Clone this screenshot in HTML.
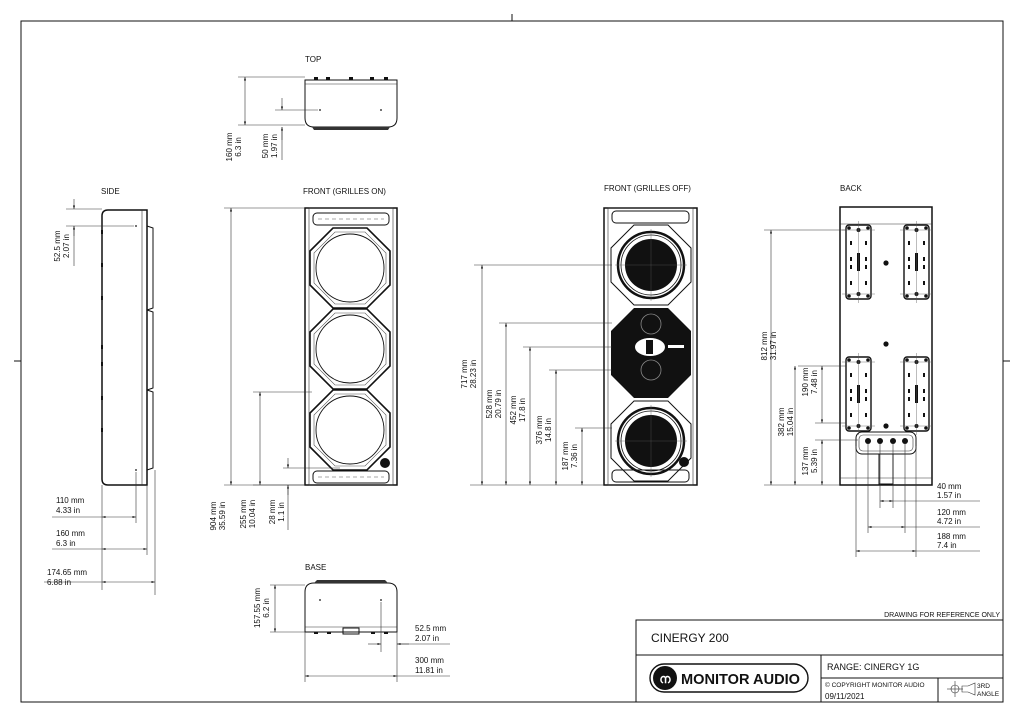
<!DOCTYPE html>
<html><head><meta charset="utf-8"><style>
html,body{margin:0;padding:0;background:#fff}
svg{display:block}
text{font-family:"Liberation Sans",sans-serif;font-size:8px;fill:#111}
.l{stroke:#111;stroke-width:1;fill:none}
.t{stroke:#333;stroke-width:0.6;fill:none}
.b{stroke:#111;stroke-width:1.5;fill:none}
</style></head><body>
<svg width="1024" height="722" viewBox="0 0 1024 722" xmlns="http://www.w3.org/2000/svg">
<defs>
<marker id="a" viewBox="0 0 10 10" refX="10" refY="5" markerWidth="6" markerHeight="6" orient="auto-start-reverse"><path d="M0,2 L10,5 L0,8z" fill="#111"/></marker>
<g id="oct">
<polygon points="-17,-40 17,-40 40,-17 40,17 17,40 -17,40 -40,17 -40,-17" fill="none" stroke="#111" stroke-width="1.6"/>
<polygon points="-15,-36 15,-36 36,-15 36,15 15,36 -15,36 -36,15 -36,-15" fill="none" stroke="#555" stroke-width="0.6"/>
<circle r="34" fill="#fff" stroke="#111" stroke-width="0.9"/>
</g>
<g id="woof">
<polygon points="-17,-40 17,-40 40,-17 40,17 17,40 -17,40 -40,17 -40,-17" fill="none" stroke="#111" stroke-width="1"/>
<circle r="33" fill="none" stroke="#111" stroke-width="2.5"/>
<circle r="30" fill="none" stroke="#111" stroke-width="0.8"/>
<circle r="26" fill="#111"/>
<line x1="-36" y1="0" x2="36" y2="0" stroke="#555" stroke-width="0.4"/>
<line x1="0" y1="-36" x2="0" y2="36" stroke="#555" stroke-width="0.4"/>
</g>
<g id="plate">
<rect x="0" y="0" width="25" height="74" rx="3" fill="none" stroke="#111" stroke-width="1.4"/>
<circle cx="3" cy="3" r="1.8" fill="#111"/><circle cx="22" cy="3" r="1.8" fill="#111"/>
<circle cx="3" cy="71" r="1.8" fill="#111"/><circle cx="22" cy="71" r="1.8" fill="#111"/>
<circle cx="12.5" cy="5" r="2" fill="#111"/><circle cx="12.5" cy="69" r="2" fill="#111"/>
<rect x="11" y="28" width="3" height="18" fill="#111"/>
<rect x="4" y="16" width="2" height="4" fill="#111"/><rect x="19" y="16" width="2" height="4" fill="#111"/>
<rect x="4" y="32" width="2" height="4" fill="#111"/><rect x="19" y="32" width="2" height="4" fill="#111"/>
<rect x="4" y="40" width="2" height="4" fill="#111"/><rect x="19" y="40" width="2" height="4" fill="#111"/>
<rect x="4" y="56" width="2" height="4" fill="#111"/><rect x="19" y="56" width="2" height="4" fill="#111"/>
<line x1="-4" y1="5" x2="29" y2="5" stroke="#555" stroke-width="0.4"/>
<line x1="-4" y1="69" x2="29" y2="69" stroke="#555" stroke-width="0.4"/>
<line x1="12.5" y1="-4" x2="12.5" y2="78" stroke="#555" stroke-width="0.4"/>
</g>
</defs>

<!-- frame -->
<rect x="21" y="21" width="982" height="681" class="l"/>
<line x1="512" y1="14" x2="512" y2="21" class="l"/>
<line x1="14" y1="361" x2="21" y2="361" class="l"/>
<line x1="1003" y1="361" x2="1010" y2="361" class="l"/>

<!-- TOP view -->
<text x="305" y="62">TOP</text>
<path d="M305,80 L397,80 L397,118 Q397,127 388,127 L314,127 Q305,127 305,118 Z" class="l"/>
<line x1="305" y1="84" x2="397" y2="84" class="t"/>
<path d="M312,127 L390,127 L388,130 L314,130 Z" fill="#333"/>
<g fill="#111"><rect x="314" y="77" width="4" height="3"/><rect x="326" y="77" width="4" height="3"/><rect x="349" y="77" width="4" height="3"/><rect x="370" y="77" width="4" height="3"/><rect x="384" y="77" width="4" height="3"/></g>
<circle cx="320" cy="110" r="0.9" fill="#111"/><circle cx="381" cy="110" r="0.9" fill="#111"/>
<line x1="238" y1="77" x2="305" y2="77" class="t"/>
<line x1="238" y1="125" x2="305" y2="125" class="t"/>
<line x1="245" y1="77" x2="245" y2="125" class="t" marker-start="url(#a)" marker-end="url(#a)"/>
<line x1="275" y1="110" x2="318" y2="110" class="t"/>
<line x1="282" y1="98" x2="282" y2="110" class="t" marker-end="url(#a)"/>
<line x1="282" y1="140" x2="282" y2="127" class="t" marker-end="url(#a)"/>
<line x1="282" y1="127" x2="282" y2="160" class="t"/>
<text transform="translate(232,147) rotate(-90)" text-anchor="middle">160 mm</text>
<text transform="translate(241,147) rotate(-90)" text-anchor="middle">6.3 in</text>
<text transform="translate(268,146) rotate(-90)" text-anchor="middle">50 mm</text>
<text transform="translate(277,146) rotate(-90)" text-anchor="middle">1.97 in</text>

<!-- SIDE view -->
<text x="101" y="194">SIDE</text>
<path d="M108,210 L147,210 L147,485 L108,485 Q102,485 102,479 L102,216 Q102,210 108,210 Z" class="b" stroke-width="1.3"/>
<line x1="142" y1="210" x2="142" y2="485" class="t"/>
<path d="M147,226 L153,228 L153,308 L147,310 M147,310 L153,312 L153,388 L147,390 M147,390 L153,392 L153,468 L147,470" class="l" stroke-width="1.6"/>
<g fill="#111"><rect x="101" y="230" width="2" height="4"/><rect x="101" y="263" width="2" height="4"/><rect x="101" y="296" width="2" height="4"/><rect x="101" y="345" width="2" height="4"/><rect x="101" y="362" width="2" height="4"/><rect x="101" y="396" width="2" height="4"/><rect x="101" y="428" width="2" height="4"/></g>
<circle cx="136" cy="226" r="0.9" fill="#111"/><circle cx="136" cy="470" r="0.9" fill="#111"/>
<line x1="66" y1="209" x2="102" y2="209" class="t"/>
<line x1="66" y1="226" x2="134" y2="226" class="t"/>
<line x1="74" y1="199" x2="74" y2="209" class="t" marker-end="url(#a)"/>
<line x1="74" y1="236" x2="74" y2="226" class="t" marker-end="url(#a)"/>
<line x1="74" y1="226" x2="74" y2="266" class="t"/>
<text transform="translate(60,246) rotate(-90)" text-anchor="middle">52.5 mm</text>
<text transform="translate(69,246) rotate(-90)" text-anchor="middle">2.07 in</text>
<line x1="102" y1="485" x2="102" y2="590" class="t"/>
<line x1="136" y1="472" x2="136" y2="523" class="t"/>
<line x1="147" y1="485" x2="147" y2="555" class="t"/>
<line x1="155" y1="470" x2="155" y2="595" class="t"/>
<line x1="52" y1="517" x2="102" y2="517" class="t"/>
<line x1="102" y1="517" x2="136" y2="517" class="t" marker-start="url(#a)" marker-end="url(#a)"/>
<line x1="52" y1="549" x2="102" y2="549" class="t"/>
<line x1="102" y1="549" x2="147" y2="549" class="t" marker-start="url(#a)" marker-end="url(#a)"/>
<line x1="44" y1="582" x2="102" y2="582" class="t"/>
<line x1="102" y1="582" x2="155" y2="582" class="t" marker-start="url(#a)" marker-end="url(#a)"/>
<text x="56" y="503">110 mm</text><text x="56" y="513">4.33 in</text>
<text x="56" y="536">160 mm</text><text x="56" y="546">6.3 in</text>
<text x="47" y="575">174.65 mm</text><text x="47" y="585">6.88 in</text>

<!-- FRONT GRILLES ON -->
<text x="303" y="194">FRONT (GRILLES ON)</text>
<rect x="305" y="208" width="92" height="277" class="b" stroke-width="1.3"/>
<rect x="309" y="208" width="84" height="277" class="t"/>
<rect x="313" y="213" width="76" height="12" rx="4" class="l"/>
<line x1="318" y1="219" x2="384" y2="219" stroke="#555" stroke-width="0.6" stroke-dasharray="4,3"/>
<rect x="313" y="471" width="76" height="12" rx="4" class="l"/>
<line x1="318" y1="477" x2="384" y2="477" stroke="#555" stroke-width="0.6" stroke-dasharray="4,3"/>
<use href="#oct" x="350" y="268"/>
<use href="#oct" x="350" y="349"/>
<use href="#oct" x="350" y="430"/>
<circle cx="385" cy="463" r="5" fill="#111"/>
<line x1="224" y1="208" x2="305" y2="208" class="t"/>
<line x1="224" y1="485" x2="305" y2="485" class="t"/>
<line x1="231" y1="208" x2="231" y2="485" class="t" marker-start="url(#a)" marker-end="url(#a)"/>
<line x1="253" y1="392" x2="312" y2="392" class="t"/>
<line x1="260" y1="392" x2="260" y2="485" class="t" marker-start="url(#a)" marker-end="url(#a)"/>
<line x1="253" y1="485" x2="305" y2="485" class="t"/>
<line x1="283" y1="468" x2="340" y2="468" class="t"/>
<line x1="288" y1="458" x2="288" y2="468" class="t" marker-end="url(#a)"/>
<line x1="288" y1="495" x2="288" y2="485" class="t" marker-end="url(#a)"/>
<line x1="288" y1="485" x2="288" y2="530" class="t"/>
<text transform="translate(216,516) rotate(-90)" text-anchor="middle">904 mm</text>
<text transform="translate(225,516) rotate(-90)" text-anchor="middle">35.59 in</text>
<text transform="translate(246,514) rotate(-90)" text-anchor="middle">255 mm</text>
<text transform="translate(255,514) rotate(-90)" text-anchor="middle">10.04 in</text>
<text transform="translate(275,512) rotate(-90)" text-anchor="middle">28 mm</text>
<text transform="translate(284,512) rotate(-90)" text-anchor="middle">1.1 in</text>

<!-- FRONT GRILLES OFF -->
<text x="604" y="191">FRONT (GRILLES OFF)</text>
<rect x="604" y="208" width="93" height="277" class="b" stroke-width="1.3"/>
<rect x="608" y="208" width="85" height="277" class="t"/>
<rect x="612" y="211" width="77" height="12" rx="4" class="l"/>
<rect x="612" y="470" width="77" height="12" rx="4" class="l"/>
<use href="#woof" x="651" y="265"/>
<use href="#woof" x="651" y="441"/>
<polygon points="634,308 668,308 691,331 691,375 668,398 634,398 611,375 611,331" fill="#111"/>
<circle cx="651" cy="324" r="10" fill="none" stroke="#888" stroke-width="0.8"/>
<circle cx="651" cy="370" r="10" fill="none" stroke="#888" stroke-width="0.8"/>
<ellipse cx="650" cy="347" rx="15" ry="9" fill="#fff"/>
<rect x="646" y="340" width="7" height="14" fill="#111"/>
<rect x="668" y="345" width="16" height="3" fill="#fff"/>
<circle cx="684" cy="462" r="5" fill="#111"/>
<line x1="474" y1="265" x2="612" y2="265" class="t"/>
<line x1="499" y1="323" x2="612" y2="323" class="t"/>
<line x1="523" y1="347" x2="612" y2="347" class="t"/>
<line x1="549" y1="370" x2="612" y2="370" class="t"/>
<line x1="575" y1="428" x2="612" y2="428" class="t"/>
<line x1="470" y1="485" x2="604" y2="485" class="t"/>
<line x1="482" y1="265" x2="482" y2="485" class="t" marker-start="url(#a)" marker-end="url(#a)"/>
<line x1="506" y1="323" x2="506" y2="485" class="t" marker-start="url(#a)" marker-end="url(#a)"/>
<line x1="530" y1="347" x2="530" y2="485" class="t" marker-start="url(#a)" marker-end="url(#a)"/>
<line x1="556" y1="370" x2="556" y2="485" class="t" marker-start="url(#a)" marker-end="url(#a)"/>
<line x1="582" y1="428" x2="582" y2="485" class="t" marker-start="url(#a)" marker-end="url(#a)"/>
<text transform="translate(467,374) rotate(-90)" text-anchor="middle">717 mm</text>
<text transform="translate(476,374) rotate(-90)" text-anchor="middle">28.23 in</text>
<text transform="translate(492,404) rotate(-90)" text-anchor="middle">528 mm</text>
<text transform="translate(501,404) rotate(-90)" text-anchor="middle">20.79 in</text>
<text transform="translate(516,410) rotate(-90)" text-anchor="middle">452 mm</text>
<text transform="translate(525,410) rotate(-90)" text-anchor="middle">17.8 in</text>
<text transform="translate(542,430) rotate(-90)" text-anchor="middle">376 mm</text>
<text transform="translate(551,430) rotate(-90)" text-anchor="middle">14.8 in</text>
<text transform="translate(568,456) rotate(-90)" text-anchor="middle">187 mm</text>
<text transform="translate(577,456) rotate(-90)" text-anchor="middle">7.36 in</text>

<!-- BACK -->
<text x="840" y="191">BACK</text>
<rect x="840" y="207" width="92" height="278" class="b" stroke-width="1.3"/>
<line x1="840" y1="224" x2="932" y2="224" class="t"/>
<line x1="840" y1="478" x2="932" y2="478" class="t"/>
<use href="#plate" x="846" y="225"/>
<use href="#plate" x="904" y="225"/>
<use href="#plate" x="846" y="357"/>
<use href="#plate" x="904" y="357"/>
<circle cx="886" cy="263" r="2.6" fill="#111"/>
<circle cx="886" cy="344" r="2.6" fill="#111"/>
<circle cx="886" cy="426" r="2.6" fill="#111"/>
<rect x="856" y="432" width="60" height="22" rx="6" class="l" stroke-width="1.3"/>
<rect x="859" y="435" width="54" height="16" rx="4" class="t"/>
<circle cx="868" cy="441" r="3" fill="#111"/><circle cx="880" cy="441" r="3" fill="#111"/>
<circle cx="893" cy="441" r="3" fill="#111"/><circle cx="905" cy="441" r="3" fill="#111"/>
<rect x="879" y="454" width="14" height="30" class="l" stroke-width="1.3"/>
<line x1="764" y1="230" x2="846" y2="230" class="t"/>
<line x1="764" y1="485" x2="840" y2="485" class="t"/>
<line x1="771" y1="230" x2="771" y2="485" class="t" marker-start="url(#a)" marker-end="url(#a)"/>
<line x1="798" y1="366" x2="846" y2="366" class="t"/>
<line x1="795" y1="366" x2="795" y2="485" class="t" marker-start="url(#a)" marker-end="url(#a)"/>
<line x1="815" y1="423" x2="846" y2="423" class="t"/>
<line x1="822" y1="366" x2="822" y2="423" class="t" marker-start="url(#a)" marker-end="url(#a)"/>
<line x1="815" y1="440" x2="858" y2="440" class="t"/>
<line x1="822" y1="440" x2="822" y2="485" class="t" marker-start="url(#a)" marker-end="url(#a)"/>
<text transform="translate(767,346) rotate(-90)" text-anchor="middle">812 mm</text>
<text transform="translate(776,346) rotate(-90)" text-anchor="middle">31.97 in</text>
<text transform="translate(808,382) rotate(-90)" text-anchor="middle">190 mm</text>
<text transform="translate(817,382) rotate(-90)" text-anchor="middle">7.48 in</text>
<text transform="translate(784,422) rotate(-90)" text-anchor="middle">382 mm</text>
<text transform="translate(793,422) rotate(-90)" text-anchor="middle">15.04 in</text>
<text transform="translate(808,461) rotate(-90)" text-anchor="middle">137 mm</text>
<text transform="translate(817,461) rotate(-90)" text-anchor="middle">5.39 in</text>
<g class="t"><line x1="856" y1="446" x2="856" y2="557"/><line x1="868" y1="444" x2="868" y2="533"/><line x1="880" y1="444" x2="880" y2="508"/><line x1="893" y1="444" x2="893" y2="508"/><line x1="905" y1="444" x2="905" y2="533"/><line x1="916" y1="446" x2="916" y2="557"/></g>
<line x1="880" y1="501" x2="893" y2="501" class="t" marker-start="url(#a)" marker-end="url(#a)"/>
<line x1="893" y1="501" x2="980" y2="501" class="t"/>
<line x1="868" y1="527" x2="905" y2="527" class="t" marker-start="url(#a)" marker-end="url(#a)"/>
<line x1="905" y1="527" x2="980" y2="527" class="t"/>
<line x1="856" y1="551" x2="916" y2="551" class="t" marker-start="url(#a)" marker-end="url(#a)"/>
<line x1="916" y1="551" x2="980" y2="551" class="t"/>
<text x="937" y="489">40 mm</text><text x="937" y="498">1.57 in</text>
<text x="937" y="515">120 mm</text><text x="937" y="524">4.72 in</text>
<text x="937" y="539">188 mm</text><text x="937" y="548">7.4 in</text>

<!-- BASE -->
<text x="305" y="570">BASE</text>
<path d="M314,583 L388,583 Q397,583 397,592 L397,632 L305,632 L305,592 Q305,583 314,583 Z" class="l"/>
<path d="M314,583 L388,583 L385,580 L317,580 Z" fill="#333"/>
<line x1="305" y1="627" x2="397" y2="627" class="t"/>
<rect x="343" y="628" width="16" height="6" class="l"/>
<g fill="#111"><rect x="314" y="632" width="4" height="2"/><rect x="327" y="632" width="4" height="2"/><rect x="371" y="632" width="4" height="2"/><rect x="384" y="632" width="4" height="2"/></g>
<circle cx="320" cy="600" r="0.9" fill="#111"/><circle cx="381" cy="600" r="0.9" fill="#111"/>
<line x1="270" y1="585" x2="305" y2="585" class="t"/>
<line x1="270" y1="632" x2="305" y2="632" class="t"/>
<line x1="275" y1="585" x2="275" y2="632" class="t" marker-start="url(#a)" marker-end="url(#a)"/>
<text transform="translate(260,608) rotate(-90)" text-anchor="middle">157.55 mm</text>
<text transform="translate(269,608) rotate(-90)" text-anchor="middle">6.2 in</text>
<line x1="381" y1="602" x2="381" y2="652" class="t"/>
<line x1="397" y1="632" x2="397" y2="682" class="t"/>
<line x1="305" y1="632" x2="305" y2="682" class="t"/>
<line x1="368" y1="644" x2="381" y2="644" class="t" marker-end="url(#a)"/>
<line x1="409" y1="644" x2="397" y2="644" class="t" marker-end="url(#a)"/>
<line x1="397" y1="644" x2="450" y2="644" class="t"/>
<line x1="305" y1="676" x2="397" y2="676" class="t" marker-start="url(#a)" marker-end="url(#a)"/>
<line x1="397" y1="676" x2="450" y2="676" class="t"/>
<text x="415" y="631">52.5 mm</text><text x="415" y="641">2.07 in</text>
<text x="415" y="663">300 mm</text><text x="415" y="673">11.81 in</text>

<!-- title block -->
<text x="1000" y="617" text-anchor="end" style="font-size:7px">DRAWING FOR REFERENCE ONLY</text>
<rect x="636" y="620" width="367" height="82" class="l"/>
<line x1="636" y1="655" x2="1003" y2="655" class="l"/>
<line x1="821" y1="655" x2="821" y2="702" class="l"/>
<line x1="821" y1="678" x2="1003" y2="678" class="l"/>
<line x1="938" y1="678" x2="938" y2="702" class="l"/>
<text x="651" y="642" style="font-size:12px">CINERGY 200</text>
<rect x="650" y="664" width="158" height="28" rx="14" fill="none" stroke="#111" stroke-width="1.4"/>
<circle cx="665" cy="678" r="12" fill="#111"/>
<text x="665" y="683" text-anchor="middle" style="font-size:12px;fill:#fff;font-weight:bold">ന</text>
<text x="681" y="684" textLength="119" lengthAdjust="spacingAndGlyphs" style="font-size:15px;font-weight:bold">MONITOR AUDIO</text>
<text x="827" y="670" style="font-size:9px">RANGE: CINERGY 1G</text>
<text x="825" y="687" style="font-size:6.5px">© COPYRIGHT MONITOR AUDIO</text>
<text x="825" y="699" style="font-size:8px">09/11/2021</text>
<circle cx="955" cy="689" r="4" class="t"/>
<line x1="947" y1="689" x2="963" y2="689" class="t"/><line x1="955" y1="681" x2="955" y2="697" class="t"/>
<path d="M962,686 L968,686 L975,683 L975,695 L968,692 L962,692 Z" class="t"/>
<text x="977" y="688" style="font-size:6.5px">3RD</text>
<text x="977" y="696" style="font-size:6.5px">ANGLE</text>
</svg>
</body></html>
